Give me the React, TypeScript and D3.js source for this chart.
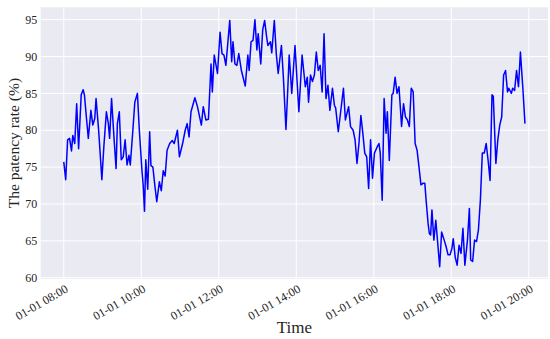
import React from "react";
import * as d3 from "d3";

// minutes after 01-01 08:00 for each observation
const minutes = [
  0, 3, 6, 9, 12, 14, 17, 20, 23, 27, 30, 32, 35, 38, 42, 45, 48, 50, 54, 59,
  62, 66, 69, 71, 74, 78, 81, 83, 86, 89, 92, 95, 98, 101, 103, 107, 110, 114, 117, 121,
  123, 125, 127, 130, 133, 135, 138, 141, 144, 148, 151, 154, 157, 160, 164, 168, 171, 176, 179, 184,
  188, 191, 194, 197, 203, 207, 213, 216, 220, 224, 228, 230, 233, 238, 242,
  245, 248, 251, 257, 260, 262, 265, 268, 271, 275, 281, 285, 287, 290, 293, 296, 299, 301, 305, 308,
  311, 314, 316, 320, 322, 326, 329, 332, 337, 340, 344, 347, 349, 353, 358,
  364, 369, 374, 377, 379, 382, 385, 388, 391, 394, 397, 400, 403, 406, 409, 412, 416, 419, 421, 425,
  428, 433, 436, 441, 444, 448, 451, 454, 457, 460, 463, 466, 469, 472, 475, 478, 481,
  485, 488, 490, 493, 496, 499, 501, 504, 508, 510, 513, 516, 519, 523, 526, 529, 532, 535, 538,
  541, 544, 547, 550, 553, 556, 559, 561, 564, 566, 568, 570, 573, 576, 582, 585, 589, 592, 595, 598, 601,
  603, 606, 609, 612, 615, 618, 621, 625, 628, 630, 633, 636, 639, 642, 645, 648, 651, 654, 657, 660,
  663, 665, 669, 672, 675, 678, 681, 684, 687, 689, 693, 695, 698, 701, 704, 707, 711, 714,
];

// patency rate (%) at each observation
const patency = [
  75.7, 73.3, 78.7, 78.9, 77.2, 79.3, 78.2, 83.6, 77.5, 84.8, 85.5, 84.8, 81.8, 78.9, 82.7, 80.7, 81.6, 84.3, 80.0, 73.3,
  77.7, 82.5, 80.9, 78.9, 84.3, 78.7, 74.8, 80.9, 82.5, 76.0, 76.4, 78.7, 75.3, 76.6, 75.3, 80.0, 83.8, 85.0, 80.0, 74.6,
  72.5, 69.0, 76.0, 72.0, 79.8, 75.2, 75.0, 72.5, 70.3, 73.0, 71.8, 74.5, 73.8, 77.3, 78.2, 78.6, 78.2, 80.0, 76.4, 78.2,
  80.0, 80.9, 79.1, 82.5, 84.4, 83.2, 80.7, 83.2, 81.4, 81.5, 89.0, 85.2, 90.2, 87.7, 93.3,
  90.4, 90.2, 88.8, 94.9, 89.3, 92.0, 89.0, 88.8, 90.4, 88.1, 86.0, 90.2, 88.1, 92.0, 92.2, 95.0, 90.9, 93.1, 89.0, 93.6,
  94.9, 92.7, 91.5, 92.0, 90.5, 94.9, 90.4, 87.7, 91.5, 87.2, 80.1, 85.9, 90.2, 85.0, 91.5,
  82.5, 90.2, 85.9, 87.2, 83.8, 87.5, 86.6, 87.5, 90.6, 88.1, 88.8, 85.2, 93.1, 84.3, 86.1, 82.7, 85.7, 83.4, 83.0, 79.8,
  82.0, 85.7, 81.4, 83.2, 80.5, 80.0, 78.7, 75.5, 78.2, 82.0, 79.6, 76.9, 76.4, 72.1, 78.7, 73.5, 76.9,
  77.7, 78.2, 76.9, 70.5, 84.3, 79.6, 82.5, 75.9, 84.8, 85.0, 87.2, 85.0, 85.9, 80.5, 83.6, 81.8, 81.4, 80.5, 85.7,
  85.2, 78.2, 77.3, 75.0, 72.6, 72.8, 72.8, 70.5, 67.4, 66.0, 65.8, 69.2, 65.1, 67.8, 61.5, 66.2, 65.1, 64.2, 63.1, 63.1, 64.0,
  65.3, 62.8, 61.7, 64.4, 63.3, 66.7, 61.7, 65.1, 69.4, 62.4, 62.2, 65.1, 64.9, 66.5, 70.5, 76.9, 76.9, 78.2, 75.9, 73.2,
  84.8, 84.6, 75.5, 78.7, 80.7, 81.8, 87.5, 88.1, 85.2, 85.7, 85.0, 85.7, 85.4, 88.1, 85.9, 90.6, 85.4, 80.9,
];

const xTickHours = [8, 10, 12, 14, 16, 18, 20];
const yTicks = [60, 65, 70, 75, 80, 85, 90, 95];

const BASE = new Date(2023, 0, 1, 8, 0, 0);
const toDate = (m: number) => new Date(BASE.getTime() + m * 60000);

const W = 550;
const H = 339;
const M = { left: 40.7, right: 548, top: 7.3, bottom: 279 };

export default function App() {
  const data = minutes.map((m, i) => ({ t: toDate(m), v: patency[i] }));
  const tExt = d3.extent(data, (d) => d.t.getTime()) as [number, number];
  const tPad = (tExt[1] - tExt[0]) * 0.05;
  const x = d3
    .scaleTime()
    .domain([new Date(tExt[0] - tPad), new Date(tExt[1] + tPad)])
    .range([M.left, M.right]);
  const vExt = d3.extent(data, (d) => d.v) as [number, number];
  const vPad = (vExt[1] - vExt[0]) * 0.05;
  const y = d3
    .scaleLinear()
    .domain([vExt[0] - vPad, vExt[1] + vPad])
    .range([M.bottom, M.top]);

  const line = d3
    .line<{ t: Date; v: number }>()
    .x((d) => x(d.t))
    .y((d) => y(d.v));

  const fmt = d3.timeFormat("%m-%d %H:%M");
  const xTicks = xTickHours.map((h) => new Date(2023, 0, 1, h, 0, 0));
  const font = "'Liberation Serif', 'DejaVu Serif', serif";

  return (
    <svg width={W} height={H} style={{ display: "block", position: "absolute", left: 0, top: 0 }} fontFamily={font}>
      <rect x={0} y={0} width={W} height={H} fill="#ffffff" />
      <rect x={M.left} y={M.top} width={M.right - M.left} height={M.bottom - M.top} fill="#EAEAF2" />
      {yTicks.map((t) => (
        <line key={"gy" + t} x1={M.left} x2={M.right} y1={y(t)} y2={y(t)} stroke="#ffffff" strokeWidth={1} />
      ))}
      {xTicks.map((t, i) => (
        <line key={"gx" + i} x1={x(t)} x2={x(t)} y1={M.top} y2={M.bottom} stroke="#ffffff" strokeWidth={1} />
      ))}
      <path d={line(data) || ""} fill="none" stroke="#0000ff" strokeWidth={1.5} strokeLinejoin="round" />
      {yTicks.map((t) => (
        <text key={"ty" + t} x={M.left - 3.5} y={y(t)} dy="0.35em" textAnchor="end" fontSize={12} fill="#262626">
          {t}
        </text>
      ))}
      {xTicks.map((t, i) => (
        <text
          key={"tx" + i}
          transform={`translate(${x(t) + 1},${M.bottom + 5}) rotate(-30)`}
          textAnchor="end"
          dy="0.7em"
          fontSize={12}
          fill="#262626"
        >
          {fmt(t)}
        </text>
      ))}
      <text x={(M.left + M.right) / 2} y={333} textAnchor="middle" fontSize={17} fill="#262626">
        Time
      </text>
      <text
        transform={`translate(19,${(M.top + M.bottom) / 2}) rotate(-90)`}
        textAnchor="middle"
        fontSize={15.5}
        fill="#262626"
      >
        The patency rate (%)
      </text>
    </svg>
  );
}
